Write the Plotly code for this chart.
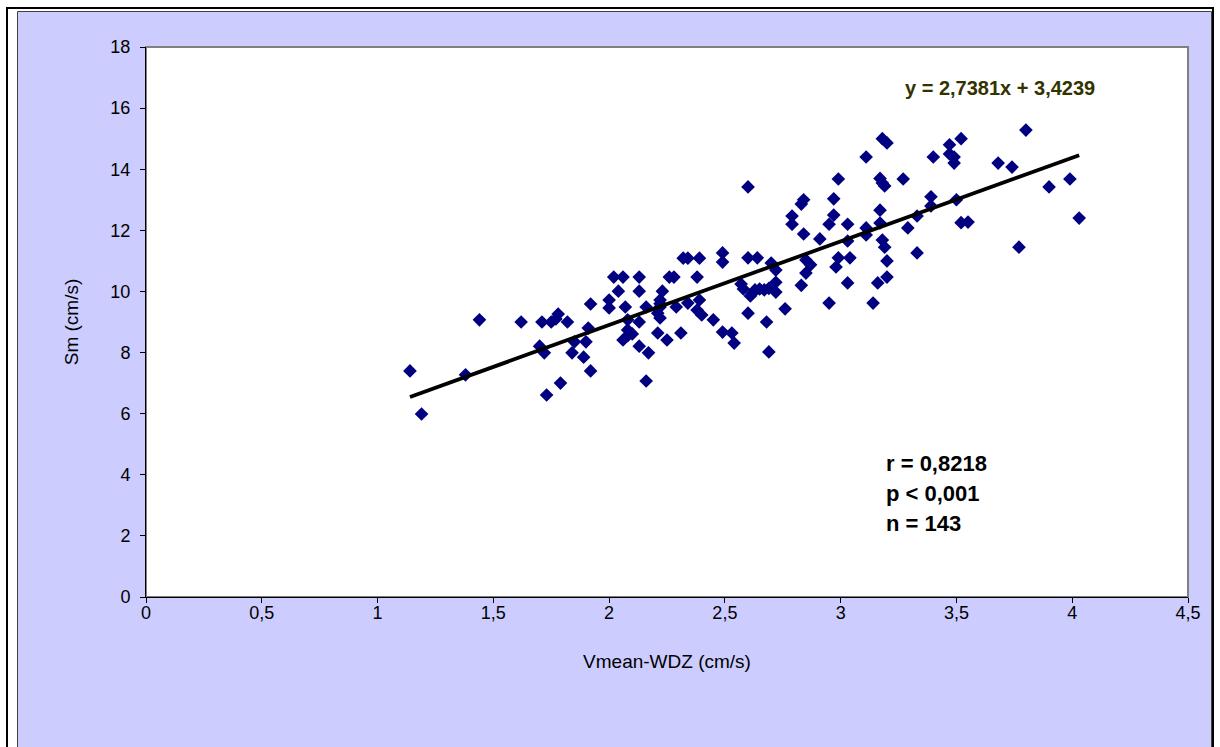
import plotly.graph_objects as go
import numpy as np

# Vmean-WDZ (cm/s) values
vmean = [
    1.14, 1.19, 1.38, 1.44,
    1.62, 1.71, 1.75, 1.78, 1.82, 1.70, 1.72, 1.73, 1.79, 1.84, 1.85, 1.90, 1.89, 1.92, 1.91, 1.92,
    2.00, 2.00, 2.02, 2.06, 2.04, 2.07, 2.08, 2.08, 2.10, 2.06, 2.13, 2.13, 2.16, 2.13, 2.13, 2.17,
    2.16, 2.23, 2.22, 2.22, 2.21, 2.22, 2.26, 2.28, 2.38, 2.29, 2.34, 2.39, 2.38, 2.40, 2.21, 2.25,
    2.31, 2.32, 2.34, 2.39,
    2.45, 2.49, 2.53, 2.54, 2.49, 2.49, 2.60, 2.64, 2.70, 2.72, 2.72, 2.57, 2.58, 2.61, 2.63, 2.65,
    2.67, 2.69, 2.72, 2.60, 2.68, 2.76, 2.69, 2.60,
    2.83, 2.85, 2.87, 2.85, 2.79, 2.79, 2.84, 2.83, 2.84, 2.91, 2.95, 2.97, 2.95, 2.97, 2.99, 2.99,
    2.98, 3.03, 3.04, 3.03, 3.03, 3.11, 3.11, 3.14, 3.16, 3.20, 3.20, 3.19, 3.18, 3.17, 3.17, 3.17,
    3.18, 3.19, 3.11, 3.18, 3.20,
    3.27, 3.29, 3.33, 3.33, 3.39, 3.39, 3.40, 3.47, 3.47, 3.49, 3.49, 3.52, 3.50, 3.52, 3.55, 3.68,
    3.74, 3.80, 3.77, 3.90, 3.99, 4.03,
    2.62, 2.22, 1.77, 2.08,
]
# Sm (cm/s) values
sm = [
    7.40, 5.99, 7.27, 9.07,
    9.00, 9.00, 9.00, 9.26, 9.00, 8.21, 7.99, 6.61, 7.00, 7.99, 8.35, 8.35, 7.85, 7.40, 8.80, 9.59,
    9.46, 9.72, 10.47, 10.47, 10.01, 9.49, 9.07, 8.74, 8.61, 8.41, 10.47, 10.01, 9.49, 9.00, 8.21, 7.99,
    7.07, 10.01, 9.72, 9.49, 9.29, 9.13, 10.47, 10.47, 10.47, 9.49, 9.62, 9.72, 9.39, 9.23, 8.64, 8.41,
    8.64, 11.09, 11.09, 11.09,
    9.07, 8.67, 8.64, 8.31, 11.26, 10.96, 11.10, 11.10, 10.93, 10.70, 10.30, 10.24, 10.08, 9.85, 10.05, 10.08,
    10.05, 10.10, 9.98, 9.29, 9.00, 9.43, 8.02, 13.42,
    10.20, 11.03, 10.87, 10.60, 12.47, 12.20, 13.00, 12.86, 11.88, 11.72, 9.62, 12.50, 12.20, 13.03, 13.68, 11.10,
    10.80, 10.28, 11.10, 12.20, 11.65, 12.08, 11.85, 9.62, 10.28, 10.47, 11.00, 11.45, 11.68, 12.24, 12.66, 13.70,
    13.55, 13.45, 14.40, 15.00, 14.86,
    13.68, 12.08, 12.47, 11.26, 13.10, 12.80, 14.40, 14.80, 14.50, 14.40, 14.20, 15.00, 13.00, 12.25, 12.27, 14.20,
    14.07, 15.28, 11.45, 13.42, 13.68, 12.40,
    9.95, 9.60, 9.10, 8.55,
]

slope = 2.7381
intercept = 3.4239
eq_text = "y = 2,7381x + 3,4239"
stats_text = ["r = 0,8218", "p < 0,001", "n = 143"]
x_title = "Vmean-WDZ (cm/s)"
y_title = "Sm (cm/s)"

x_fit = np.array([min(vmean), max(vmean)])
y_fit = slope * x_fit + intercept

FONT = "Liberation Sans, Arial, sans-serif"

fig = go.Figure()
fig.add_trace(go.Scatter(
    x=vmean, y=sm, mode="markers",
    marker=dict(symbol="diamond", size=10.5, color="#000080", line=dict(width=0)),
    showlegend=False, hoverinfo="x+y"))
fig.add_trace(go.Scatter(
    x=x_fit, y=y_fit, mode="lines",
    line=dict(color="black", width=3.8), showlegend=False, hoverinfo="skip"))

L, R, T, B = 146, 32, 47, 150
W, H = 1220, 747
pw, ph = W - L - R, H - T - B

def px(v):
    return (v - L) / pw

def py(v):
    return (H - B - v) / ph

shapes = [
    dict(type="rect", xref="paper", yref="paper", layer="below",
         x0=px(7), x1=px(1213), y0=py(770), y1=py(8),
         line=dict(color="black", width=2), fillcolor="white"),
    dict(type="rect", xref="paper", yref="paper", layer="below",
         x0=px(17.5), x1=px(1211.5), y0=py(770), y1=py(11.5),
         line=dict(color="#404040", width=1), fillcolor="#CCCCFF"),
    dict(type="rect", xref="paper", yref="paper", layer="below",
         x0=0, x1=1, y0=0, y1=1,
         line=dict(color="#808080", width=2), fillcolor="white"),
]

annotations = [
    dict(text=f"<b>{eq_text}</b>", xref="paper", yref="paper",
         x=px(1000), y=py(88), xanchor="center", yanchor="middle", showarrow=False,
         font=dict(family=FONT, size=20, color="#333300")),
]
for i, t in enumerate(stats_text):
    annotations.append(dict(
        text=f"<b>{t}</b>", xref="paper", yref="paper",
        x=px(884), y=py(463 + 30 * i), xanchor="left", yanchor="middle", showarrow=False,
        font=dict(family=FONT, size=22, color="black")))

fig.update_layout(
    width=W, height=H,
    margin=dict(l=L, r=R, t=T, b=B, pad=0),
    paper_bgcolor="white", plot_bgcolor="white",
    separators=", ",
    font=dict(family=FONT, size=18, color="black"),
    shapes=shapes, annotations=annotations,
    xaxis=dict(range=[0, 4.5], dtick=0.5, tick0=0, showgrid=False, zeroline=False,
               showline=True, linecolor="black", linewidth=1,
               ticks="outside", ticklen=5, tickcolor="black", ticklabelstandoff=-6,
               title=dict(text=x_title, standoff=33, font=dict(family=FONT, size=19))),
    yaxis=dict(range=[0, 18], dtick=2, tick0=0, showgrid=False, zeroline=False,
               showline=True, linecolor="black", linewidth=1,
               ticks="outside", ticklen=5, tickcolor="black", ticklabelstandoff=6,
               title=dict(text=y_title, standoff=26, font=dict(family=FONT, size=19))),
)

fig.write_html("out.html", config={"displayModeBar": False},
               post_script="document.body.style.margin='0';")
